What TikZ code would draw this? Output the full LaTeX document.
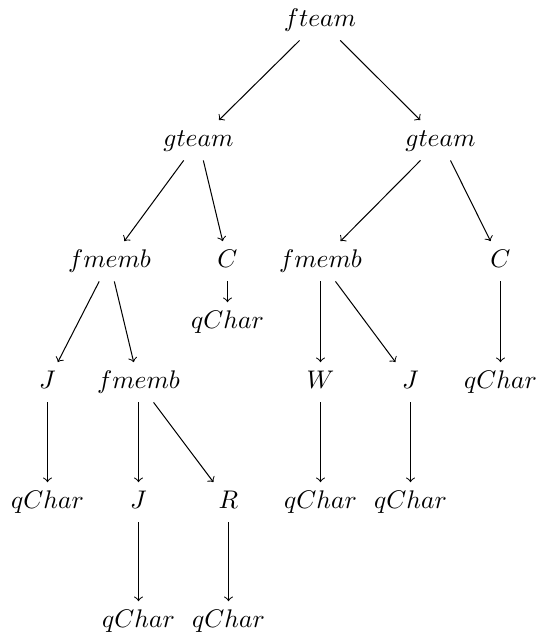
\documentclass[tikz,border=0pt]{standalone}
\begin{document}
\begin{tikzpicture}[x=0.3922pt,y=-0.3922pt,
  lbl/.style={anchor=base, text height=6.5pt, text depth=2pt, inner xsep=3pt, inner ysep=3.45pt},
  edge/.style={->, >=to, line width=0.4pt}]
\useasboundingbox (0,0) rectangle (539,638);
\node[lbl] (ft) at (320,26) {$fteam$};
\node[lbl] (gl) at (198.5,146) {$gteam$};
\node[lbl] (gr) at (440.5,146) {$gteam$};
\node[lbl] (fml) at (109.5,267) {$fmemb$};
\node[lbl] (cl) at (227.5,267) {$C$};
\node[lbl] (ql) at (227.5,328) {$qChar$};
\node[lbl] (fmr) at (320.5,267) {$fmemb$};
\node[lbl] (cr) at (500.5,267) {$C$};
\node[lbl] (j1) at (47.5,388) {$J$};
\node[lbl] (fmm) at (138.5,388) {$fmemb$};
\node[lbl] (w) at (320.5,388) {$W$};
\node[lbl] (j2) at (410.5,388) {$J$};
\node[lbl] (qr) at (500.5,388) {$qChar$};
\node[lbl] (q1) at (47.5,508) {$qChar$};
\node[lbl] (j3) at (138.5,508) {$J$};
\node[lbl] (r) at (228.5,508) {$R$};
\node[lbl] (qw) at (320.5,508) {$qChar$};
\node[lbl] (qj2) at (410.5,508) {$qChar$};
\node[lbl] (qj3) at (138.5,627) {$qChar$};
\node[lbl] (qr2) at (228.5,627) {$qChar$};
\draw[edge] (ft) -- (gl);
\draw[edge] (ft) -- (gr);
\draw[edge] (gl) -- (fml);
\draw[edge] (gl) -- (cl);
\draw[edge] (cl) -- (ql);
\draw[edge] (gr) -- (fmr);
\draw[edge] (gr) -- (cr);
\draw[edge] (fml) -- (j1);
\draw[edge] (fml) -- (fmm);
\draw[edge] (fmr) -- (w);
\draw[edge] (fmr) -- (j2);
\draw[edge] (cr) -- (qr);
\draw[edge] (j1) -- (q1);
\draw[edge] (fmm) -- (j3);
\draw[edge] (fmm) -- (r);
\draw[edge] (w) -- (qw);
\draw[edge] (j2) -- (qj2);
\draw[edge] (j3) -- (qj3);
\draw[edge] (r) -- (qr2);
\end{tikzpicture}
\end{document}
